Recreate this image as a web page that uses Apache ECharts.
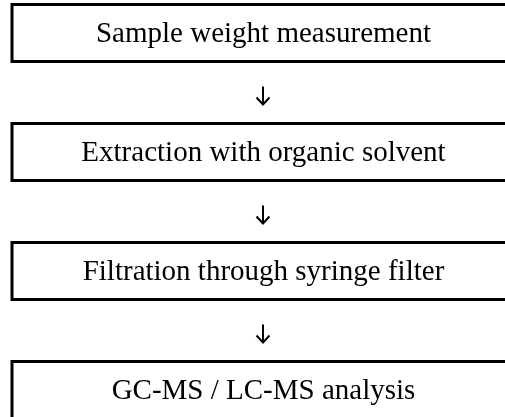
<!DOCTYPE html>
<html>
<head>
<meta charset="utf-8">
<script src="https://cdn.jsdelivr.net/npm/echarts@6/dist/echarts.min.js"></script>
<style>html,body{margin:0;padding:0;background:#fff}#c{width:505px;height:417px}</style>
</head>
<body>
<div id="c"></div>
<script>
// Flowchart steps (top to bottom)
var steps = [
  'Sample weight measurement',
  'Extraction with organic solvent',
  'Filtration through syringe filter',
  'GC-MS / LC-MS analysis'
];
// Arrows: from step index -> to step index
var arrowFrom = [0, 1, 2];
var arrowTo = [1, 2, 3];

var stepData = steps.map(function (s, i) { return [0.5, i, s]; });
var arrowData = arrowFrom.map(function (f, k) { return [0.5, (f + arrowTo[k]) / 2]; });

var FONT = '"Liberation Serif","Times New Roman",serif';

var chart = echarts.init(document.getElementById('c'), null, {renderer: 'canvas'});
chart.setOption({
  animation: false,
  backgroundColor: '#ffffff',
  grid: {left: 12, right: 0, top: 33, bottom: 27},
  // visible window covers 493 of the 502-px-wide boxes (boxes run off the right edge)
  xAxis: {type: 'value', min: 0, max: 493 / 502, show: false},
  yAxis: {type: 'value', min: 0, max: 3, inverse: true, show: false},
  series: [
    {
      type: 'custom',
      clip: false,
      data: stepData,
      renderItem: function (params, api) {
        var c = api.coord([api.value(0), api.value(1)]);
        var sz = api.size([1, 0.48]);
        return {
          type: 'group',
          children: [
            {
              type: 'rect',
              shape: {x: c[0] - sz[0] / 2, y: c[1] - sz[1] / 2, width: sz[0], height: sz[1]},
              style: {fill: '#ffffff', stroke: '#000000', lineWidth: 3}
            },
            {
              type: 'text',
              x: c[0] + 0.5, y: c[1] + 1,
              style: {
                text: steps[params.dataIndex],
                font: '29px ' + FONT,
                fill: '#000000',
                align: 'center',
                verticalAlign: 'middle'
              }
            }
          ]
        };
      }
    },
    {
      type: 'custom',
      clip: false,
      data: arrowData,
      renderItem: function (params, api) {
        var c = api.coord([api.value(0), api.value(1)]);
        var x = c[0], y = c[1] + 3;
        return {
          type: 'group',
          children: [
            {
              type: 'line',
              shape: {x1: x, y1: y - 9, x2: x, y2: y + 9},
              style: {stroke: '#000000', lineWidth: 2}
            },
            {
              type: 'polyline',
              shape: {points: [[x - 6.5, y + 2], [x, y + 9], [x + 6.5, y + 2]]},
              style: {stroke: '#000000', lineWidth: 2, fill: null}
            }
          ]
        };
      }
    }
  ]
});
</script>
</body>
</html>
